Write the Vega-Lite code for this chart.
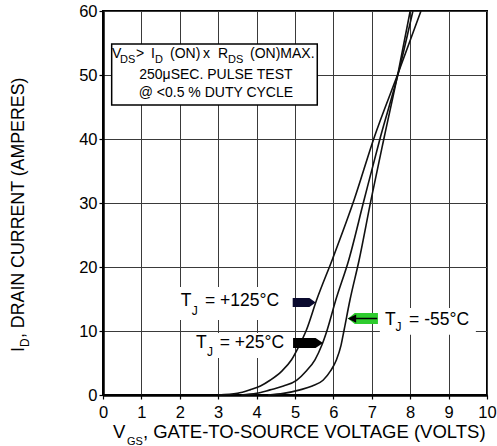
{
  "$schema": "https://vega.github.io/schema/vega-lite/v6.json",
  "width": 384,
  "height": 384,
  "autosize": {"type": "none"},
  "padding": {"left": 103, "top": 11, "right": 10, "bottom": 51},
  "background": "white",
  "config": {
    "font": "Liberation Sans",
    "view": {"stroke": "#000", "strokeWidth": 2},
    "axis": {
      "grid": true, "gridColor": "#3a3a3a", "gridWidth": 1, "gridOpacity": 1,
      "domainColor": "#000", "domainWidth": 2.5,
      "tickColor": "#000", "tickSize": 4, "tickWidth": 1.2,
      "labelFont": "Liberation Sans", "labelFontSize": 16.5, "labelColor": "#000",
      "labelFlush": false, "labelOverlap": false
    },
    "axisX": {"labelPadding": 5, "tickCount": 10},
    "axisY": {"labelPadding": 2, "tickCount": 6}
  },
  "encoding": {
    "x": {"field": "v", "type": "quantitative", "scale": {"domain": [0, 10], "nice": false, "zero": false}, "axis": {"title": null}},
    "y": {"field": "i", "type": "quantitative", "scale": {"domain": [0, 60], "nice": false, "zero": false}, "axis": {"title": null}}
  },
  "layer": [
    {
      "data": {"values": [
        {"v": 1.875, "v2": 4.87, "i": 16.875, "i2": 11.72},
        {"v": 2.27, "v2": 4.87, "i": 9.69, "i2": 5.78},
        {"v": 7.21, "v2": 9.71, "i": 13.6, "i2": 9.4}
      ]},
      "mark": {"type": "rect", "fill": "white", "strokeWidth": 0},
      "encoding": {"x2": {"field": "v2"}, "y2": {"field": "i2"}}
    },
    {
      "data": {"values": [{"v": 0.226, "v2": 5.58, "i": 54.84, "i2": 45.3}]},
      "mark": {"type": "rect", "fill": "white", "stroke": "#000", "strokeWidth": 1.5},
      "encoding": {"x2": {"field": "v2"}, "y2": {"field": "i2"}}
    },
    {
      "data": {"values": [
        {"t": "125", "v": 3.0, "i": 0}, {"t": "125", "v": 3.5, "i": 0.25}, {"t": "125", "v": 3.83, "i": 0.8},
        {"t": "125", "v": 4.1, "i": 1.4}, {"t": "125", "v": 4.35, "i": 2.3}, {"t": "125", "v": 4.65, "i": 3.7},
        {"t": "125", "v": 4.91, "i": 5.5}, {"t": "125", "v": 5.1, "i": 7.6}, {"t": "125", "v": 5.3, "i": 10.2},
        {"t": "125", "v": 5.56, "i": 14.8}, {"t": "125", "v": 5.98, "i": 21.3}, {"t": "125", "v": 6.54, "i": 30.5},
        {"t": "125", "v": 7.06, "i": 40.2}, {"t": "125", "v": 7.7, "i": 50.5}, {"t": "125", "v": 8.28, "i": 60},
        {"t": "25", "v": 3.6, "i": 0}, {"t": "25", "v": 4.0, "i": 0.25}, {"t": "25", "v": 4.35, "i": 0.8},
        {"t": "25", "v": 4.7, "i": 1.4}, {"t": "25", "v": 5.04, "i": 2.3}, {"t": "25", "v": 5.3, "i": 3.8},
        {"t": "25", "v": 5.52, "i": 5.5}, {"t": "25", "v": 5.7, "i": 7.8}, {"t": "25", "v": 5.84, "i": 10.2},
        {"t": "25", "v": 6.06, "i": 14.8}, {"t": "25", "v": 6.4, "i": 21.1}, {"t": "25", "v": 6.8, "i": 30.5},
        {"t": "25", "v": 7.22, "i": 40.2}, {"t": "25", "v": 7.7, "i": 50.5}, {"t": "25", "v": 8.07, "i": 60},
        {"t": "-55", "v": 4.3, "i": 0}, {"t": "-55", "v": 4.7, "i": 0.25}, {"t": "-55", "v": 5.13, "i": 0.8},
        {"t": "-55", "v": 5.45, "i": 1.4}, {"t": "-55", "v": 5.73, "i": 2.3}, {"t": "-55", "v": 5.93, "i": 3.8},
        {"t": "-55", "v": 6.08, "i": 5.5}, {"t": "-55", "v": 6.2, "i": 7.8}, {"t": "-55", "v": 6.28, "i": 10.2},
        {"t": "-55", "v": 6.43, "i": 14.8}, {"t": "-55", "v": 6.67, "i": 21.1}, {"t": "-55", "v": 6.98, "i": 30.5},
        {"t": "-55", "v": 7.32, "i": 40.2}, {"t": "-55", "v": 7.7, "i": 50.8}, {"t": "-55", "v": 8.0, "i": 60}
      ]},
      "mark": {"type": "line", "interpolate": "monotone", "color": "#111", "strokeWidth": 1.6},
      "encoding": {"detail": {"field": "t"}}
    },
    {
      "data": {"values": [{"v": 5.24, "i": 14.45}]},
      "mark": {"type": "point", "shape": "M-1,-0.4L0.45,-0.4L1,0L0.45,0.4L-1,0.4Z", "filled": true, "size": 529, "color": "#0a0a2e", "opacity": 1, "strokeWidth": 0}
    },
    {
      "data": {"values": [{"v": 5.34, "i": 8.125}]},
      "mark": {"type": "point", "shape": "M-1,-0.333L0.5,-0.333L1,0L0.5,0.333L-1,0.333Z", "filled": true, "size": 900, "color": "#000", "opacity": 1, "strokeWidth": 0}
    },
    {
      "data": {"values": [{"v": 6.77, "i": 11.95}]},
      "mark": {"type": "point", "shape": "M1,-0.367L-0.55,-0.367L-1,0L-0.55,0.367L1,0.367Z", "filled": true, "size": 900, "color": "#2ecc2e", "opacity": 1, "strokeWidth": 0}
    },
    {
      "data": {"values": [{"v": 6.77, "i": 11.95}]},
      "mark": {"type": "point", "shape": "M-0.92,0L-0.5,-0.2L-0.5,0.2Z M-0.5,0L0.95,0", "filled": true, "size": 900, "color": "#000", "stroke": "#000", "strokeWidth": 1.4, "opacity": 1}
    },
    {
      "data": {"values": [
        {"v": 0.234, "i": 52.66, "label": "V"},
        {"v": 0.859, "i": 52.66, "label": ">"},
        {"v": 1.25, "i": 52.66, "label": "I"},
        {"v": 1.745, "i": 52.66, "label": "(ON)"},
        {"v": 2.604, "i": 52.66, "label": "x"},
        {"v": 2.995, "i": 52.66, "label": "R"},
        {"v": 3.828, "i": 52.66, "label": "(ON)MAX."}
      ]},
      "mark": {"type": "text", "align": "left", "baseline": "alphabetic", "fontSize": 14, "color": "#000"},
      "encoding": {"text": {"field": "label"}}
    },
    {
      "data": {"values": [
        {"v": 0.443, "i": 51.95, "label": "DS"},
        {"v": 1.354, "i": 51.95, "label": "D"},
        {"v": 3.255, "i": 51.95, "label": "DS"}
      ]},
      "mark": {"type": "text", "align": "left", "baseline": "alphabetic", "fontSize": 11, "color": "#000"},
      "encoding": {"text": {"field": "label"}}
    },
    {
      "data": {"values": [
        {"v": 2.94, "i": 49.45, "label": "250μSEC. PULSE TEST"},
        {"v": 2.94, "i": 46.64, "label": "@ <0.5 % DUTY CYCLE"}
      ]},
      "mark": {"type": "text", "align": "center", "baseline": "alphabetic", "fontSize": 14, "color": "#000"},
      "encoding": {"text": {"field": "label"}}
    },
    {
      "data": {"values": [
        {"v": 2.023, "i": 13.9, "label": "T"},
        {"v": 2.656, "i": 13.9, "label": "= +125°C"},
        {"v": 2.42, "i": 7.3, "label": "T"},
        {"v": 3.04, "i": 7.3, "label": "= +25°C"},
        {"v": 7.344, "i": 10.94, "label": "T"},
        {"v": 7.97, "i": 10.94, "label": "= -55°C"}
      ]},
      "mark": {"type": "text", "align": "left", "baseline": "alphabetic", "fontSize": 17.5, "color": "#000"},
      "encoding": {"text": {"field": "label"}}
    },
    {
      "data": {"values": [
        {"v": 2.31, "i": 12.5, "label": "J"},
        {"v": 2.708, "i": 6.1, "label": "J"},
        {"v": 7.62, "i": 10.0, "label": "J"}
      ]},
      "mark": {"type": "text", "align": "left", "baseline": "alphabetic", "fontSize": 12, "color": "#000"},
      "encoding": {"text": {"field": "label"}}
    },
    {
      "data": {"values": [
        {"v": 0.26, "i": -6.72, "label": "V"},
        {"v": 1.04, "i": -6.72, "label": ", GATE-TO-SOURCE VOLTAGE (VOLTS)"}
      ]},
      "mark": {"type": "text", "align": "left", "baseline": "alphabetic", "fontSize": 18.5, "color": "#000"},
      "encoding": {"text": {"field": "label"}}
    },
    {
      "data": {"values": [{"v": 0.625, "i": -7.85, "label": "GS"}]},
      "mark": {"type": "text", "align": "left", "baseline": "alphabetic", "fontSize": 11, "color": "#000"},
      "encoding": {"text": {"field": "label"}}
    },
    {
      "data": {"values": [
        {"v": -2.06, "i": 6.72, "label": "I"},
        {"v": -2.06, "i": 8.9, "label": ", DRAIN CURRENT (AMPERES)"}
      ]},
      "mark": {"type": "text", "align": "left", "baseline": "alphabetic", "fontSize": 17.8, "angle": 270, "color": "#000"},
      "encoding": {"text": {"field": "label"}}
    },
    {
      "data": {"values": [{"v": -1.93, "i": 7.5, "label": "D"}]},
      "mark": {"type": "text", "align": "left", "baseline": "alphabetic", "fontSize": 12, "angle": 270, "color": "#000"},
      "encoding": {"text": {"field": "label"}}
    }
  ]
}
